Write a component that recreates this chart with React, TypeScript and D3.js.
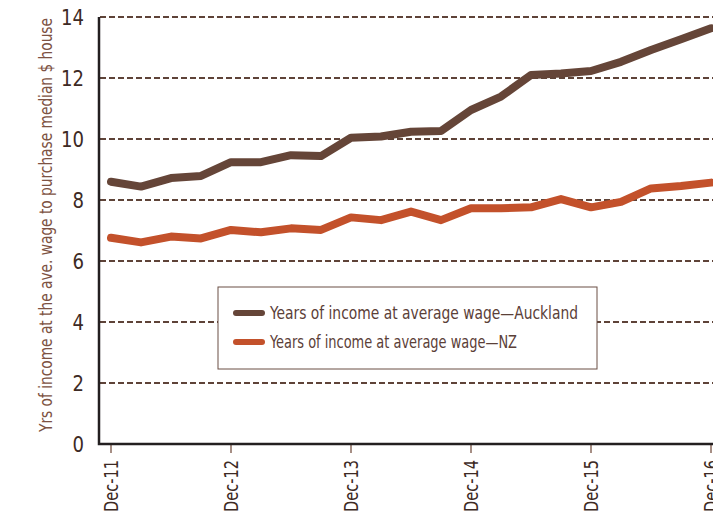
import { useEffect, useRef } from "react";
import * as d3 from "d3";

// quarterly, Dec-11 .. Dec-16
const quarters = d3.range(21);
const auckland = [8.6, 8.44, 8.72, 8.79, 9.24, 9.24, 9.47, 9.44, 10.04, 10.08, 10.24, 10.26, 10.95, 11.39, 12.1, 12.15, 12.23, 12.53, 12.92, 13.27, 13.63];
const nz = [6.76, 6.61, 6.8, 6.74, 7.02, 6.94, 7.07, 7.02, 7.43, 7.34, 7.62, 7.34, 7.73, 7.73, 7.76, 8.03, 7.76, 7.94, 8.38, 8.46, 8.57];
const xTickLabels = ["Dec-11", "Dec-12", "Dec-13", "Dec-14", "Dec-15", "Dec-16"];
const yTicks = [0, 2, 4, 6, 8, 10, 12, 14];
const seriesNames = ["Years of income at average wage\u2014Auckland", "Years of income at average wage\u2014NZ"];
const colors = ["#654538", "#c3512b"];

const FONT = "'DejaVu Sans Condensed', 'DejaVu Sans', sans-serif";

export default function App() {
    const svgRef = useRef<SVGSVGElement | null>(null);

    useEffect(() => {
        const width = 713;
        const height = 514;
        const svg = d3.select(svgRef.current!).attr("width", width).attr("height", height);
        svg.selectAll("*").remove();
        svg.append("rect").attr("width", width).attr("height", height).attr("fill", "#fff");

        const x = d3.scaleLinear().domain([0, 20]).range([111, 711]);
        const y = d3.scaleLinear().domain([0, 14]).range([444, 17]);

        // grid
        svg.append("g")
            .selectAll("line")
            .data(yTicks.filter((d) => d > 0))
            .join("line")
            .attr("x1", 100)
            .attr("x2", width)
            .attr("y1", (d) => y(d))
            .attr("y2", (d) => y(d))
            .attr("stroke", "#5e4338")
            .attr("stroke-width", 1.8)
            .attr("stroke-dasharray", "6,3");

        // y labels
        svg.append("g")
            .selectAll("text")
            .data(yTicks)
            .join("text")
            .attr("x", 84)
            .attr("y", (d) => y(d))
            .attr("dy", "0.36em")
            .attr("text-anchor", "end")
            .attr("font-family", FONT)
            .attr("font-stretch", "condensed")
            .attr("font-size", 22)
            .attr("fill", "#3d2a24")
            .attr("textLength", (d) => (d >= 10 ? 23 : 11.5))
            .attr("lengthAdjust", "spacingAndGlyphs")
            .text((d) => d);

        // x ticks + labels
        const xt = svg.append("g");
        xt.selectAll("line")
            .data(xTickLabels)
            .join("line")
            .attr("x1", (_d, i) => x(i * 4))
            .attr("x2", (_d, i) => x(i * 4))
            .attr("y1", 444)
            .attr("y2", 453)
            .attr("stroke", "#8a6a5c")
            .attr("stroke-width", 1.5);
        xt.selectAll("text")
            .data(xTickLabels)
            .join("text")
            .attr("transform", (_d, i) => `translate(${x(i * 4)},460) rotate(-90)`)
            .attr("dy", "0.35em")
            .attr("text-anchor", "end")
            .attr("font-family", FONT)
            .attr("font-stretch", "condensed")
            .attr("font-size", 19)
            .attr("fill", "#3d2a24")
            .attr("textLength", 52)
            .attr("lengthAdjust", "spacingAndGlyphs")
            .text((d) => d);

        // axes
        svg.append("path")
            .attr("d", `M99,17V444H${width}`)
            .attr("fill", "none")
            .attr("stroke", "#231f20")
            .attr("stroke-width", 2.5);

        // y title
        svg.append("text")
            .attr("transform", `translate(46,225) rotate(-90)`)
            .attr("dy", "0.35em")
            .attr("text-anchor", "middle")
            .attr("font-family", FONT)
            .attr("font-stretch", "condensed")
            .attr("font-size", 17)
            .attr("fill", "#7d5242")
            .attr("textLength", 414)
            .attr("lengthAdjust", "spacingAndGlyphs")
            .text("Yrs of income at the ave. wage to purchase median $ house");

        // lines
        const line = d3
            .line<number>()
            .x((_d, i) => x(quarters[i]))
            .y((d) => y(d));
        [auckland, nz].forEach((s, k) => {
            svg.append("path")
                .datum(s)
                .attr("fill", "none")
                .attr("stroke", colors[k])
                .attr("stroke-width", 8)
                .attr("stroke-linejoin", "round")
                .attr("stroke-linecap", "round")
                .attr("d", line);
        });

        // legend
        const lg = svg.append("g").attr("transform", "translate(218,287)");
        lg.append("rect")
            .attr("width", 379)
            .attr("height", 82)
            .attr("fill", "#fff")
            .attr("stroke", "#6b4f44")
            .attr("stroke-width", 1);
        const legendWidths = [308, 247];
        seriesNames.forEach((name, k) => {
            const yy = 26 + k * 29;
            lg.append("line")
                .attr("x1", 18)
                .attr("x2", 44)
                .attr("y1", yy)
                .attr("y2", yy)
                .attr("stroke", colors[k])
                .attr("stroke-width", 6)
                .attr("stroke-linecap", "round");
            lg.append("text")
                .attr("x", 52)
                .attr("y", yy)
                .attr("dy", "0.35em")
                .attr("font-family", FONT)
                .attr("font-stretch", "condensed")
                .attr("font-size", 18)
                .attr("fill", "#5b4038")
                .attr("textLength", legendWidths[k])
                .attr("lengthAdjust", "spacingAndGlyphs")
                .text(name);
        });
    }, []);

    return (
        <div style={{ position: "absolute", left: 0, top: 0 }}>
            <svg ref={svgRef} style={{ display: "block" }} />
        </div>
    );
}
